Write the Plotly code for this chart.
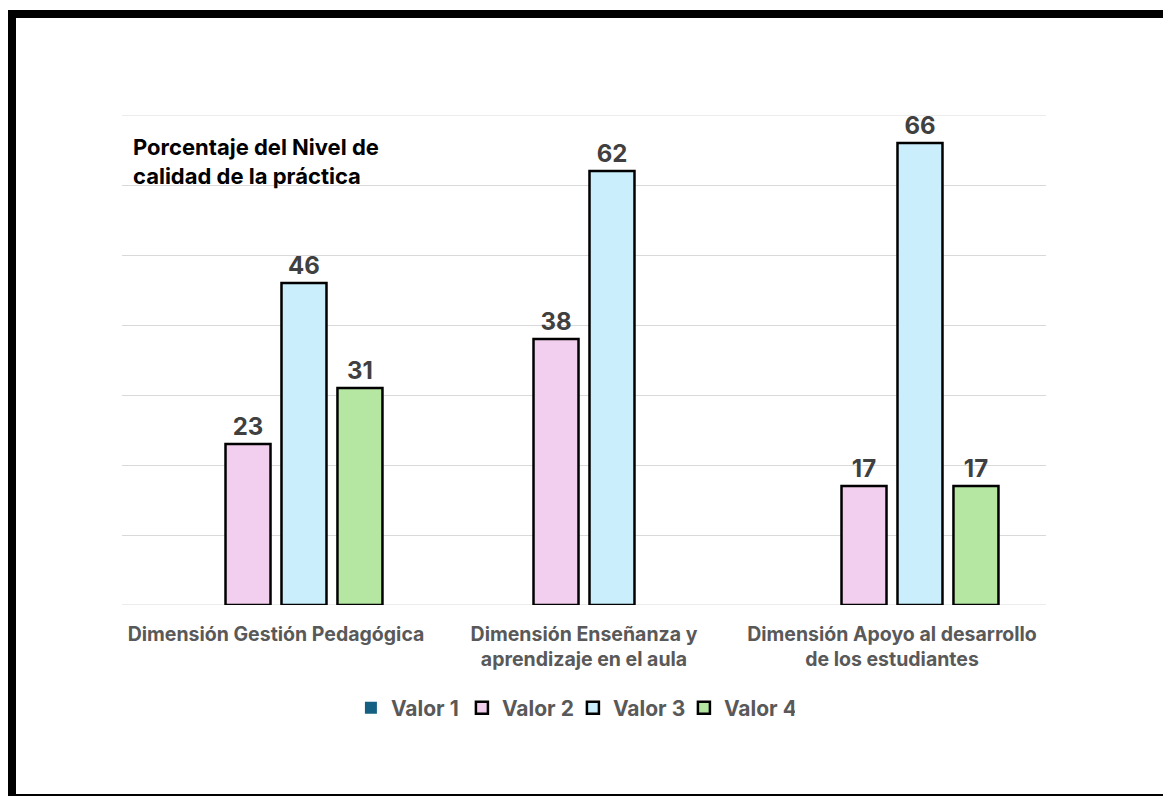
import plotly.graph_objects as go

# Datos
categorias = [
    "Dimensión Gestión Pedagógica",
    "Dimensión Enseñanza y<br>aprendizaje en el aula",
    "Dimensión Apoyo al desarrollo<br>de los estudiantes",
]
series = ["Valor 1", "Valor 2", "Valor 3", "Valor 4"]
valor_1 = [0, 0, 0]
valor_2 = [23, 38, 17]
valor_3 = [46, 62, 66]
valor_4 = [31, None, 17]
titulo = "Porcentaje del Nivel de<br>calidad de la práctica"

valores = [valor_1, valor_2, valor_3, valor_4]
colores = ["#156082", "#F2CFEE", "#CAEEFB", "#B5E6A2"]
bordes = [0, 2.5, 2.5, 2.5]

FONT = "Inter"
W, H = 1163, 796
L, R, T, B = 122, 117, 115, 191  # plot area: x 122..1046, y 115..605
Y_MAX = 70

fig = go.Figure()
for nombre, vals, color, borde in zip(series, valores, colores, bordes):
    etiquetas = [str(v) if v else "" for v in vals]
    fig.add_trace(go.Bar(
        name=nombre,
        x=categorias,
        y=vals,
        text=etiquetas,
        textposition="outside",
        textfont=dict(family=FONT, size=24, color="#404040", weight="bold"),
        marker=dict(color=color, line=dict(color="#000000", width=borde)),
        cliponaxis=False,
    ))

def px_x(x):
    return (x - L) / (W - L - R)

def px_y(y):
    return (H - B - y) / (H - T - B)

# Líneas de cuadrícula en los extremos del eje (0 y máximo)
shapes = [
    dict(type="line", xref="paper", yref="y", x0=0, x1=1, y0=v, y1=v,
         line=dict(color="#D9D9D9", width=1), layer="below")
    for v in (0, Y_MAX)
]

# Marco negro (arriba, izquierda y abajo)
marco = [
    (8, 10, W, 18),
    (8, 10, 16, H),
    (8, 794, W, H),
]
shapes += [
    dict(type="rect", xref="paper", yref="paper",
         x0=px_x(x0), x1=px_x(x1), y0=px_y(y1), y1=px_y(y0),
         fillcolor="#000000", line=dict(width=0), layer="above")
    for x0, y0, x1, y1 in marco
]

fig.update_layout(
    width=W, height=H,
    margin=dict(l=L, r=R, t=T, b=B, pad=0),
    paper_bgcolor="white",
    plot_bgcolor="white",
    barmode="group",
    bargap=0.273,
    bargroupgap=0.196,
    showlegend=True,
    legend=dict(
        orientation="h",
        x=0.488, xanchor="center",
        y=px_y(708), yanchor="middle",
        font=dict(family=FONT, size=21, color="#595959", weight="bold"),
        itemwidth=30,
        entrywidth=66,
        itemclick=False,
    ),
    xaxis=dict(
        showgrid=False, showline=False, ticks="",
        tickfont=dict(family=FONT, size=19.5, color="#595959", weight="bold"),
        ticklabelstandoff=15,
    ),
    yaxis=dict(
        range=[0, Y_MAX], dtick=10, showgrid=True, gridcolor="#D9D9D9",
        gridwidth=1, zeroline=False, showticklabels=False, showline=False,
    ),
    shapes=shapes,
    annotations=[dict(
        text=titulo, xref="paper", yref="paper",
        x=px_x(131), y=px_y(132), xanchor="left", yanchor="top",
        align="left", showarrow=False,
        font=dict(family=FONT, size=22, color="#000000", weight="bold"),
    )],
)

fig.write_html("out.html")
